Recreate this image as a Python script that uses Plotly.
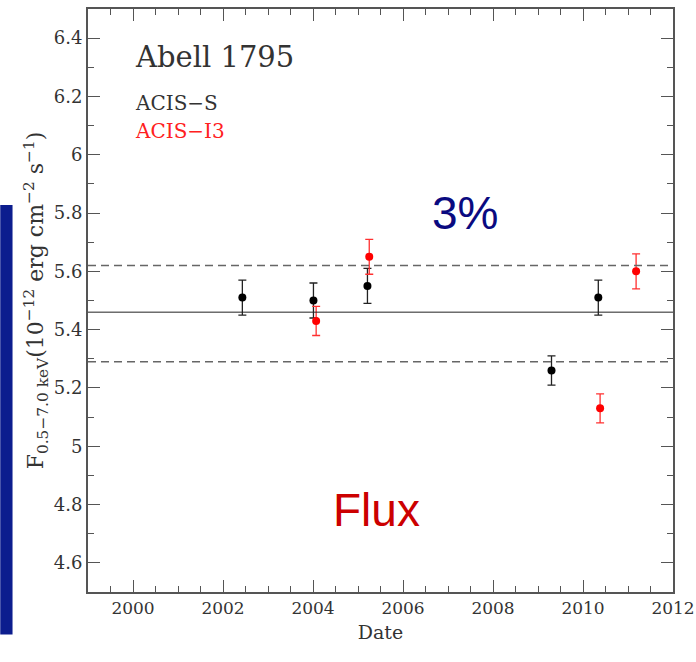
import plotly.graph_objects as go

# Data
s_years = [2002.43, 2004.01, 2005.21, 2009.30, 2010.34]
s_flux = [5.51, 5.50, 5.55, 5.26, 5.51]
s_err = [0.06, 0.06, 0.06, 0.05, 0.06]

i_years = [2004.07, 2005.25, 2010.38, 2011.18]
i_flux = [5.43, 5.65, 5.13, 5.60]
i_err = [0.05, 0.06, 0.05, 0.06]

mean_flux = 5.46
upper_band = 5.62
lower_band = 5.29

x_range = [1999, 2012]
y_range = [4.5, 6.5]

SERIF = "DejaVu Serif"
AXC = "#555555"

fig = go.Figure()

fig.add_trace(go.Scatter(
    x=s_years, y=s_flux, mode="markers",
    marker=dict(color="black", size=8),
    error_y=dict(type="data", array=s_err, color="#222222", thickness=1.3, width=4),
    showlegend=False))
fig.add_trace(go.Scatter(
    x=i_years, y=i_flux, mode="markers",
    marker=dict(color="#ff0000", size=8),
    error_y=dict(type="data", array=i_err, color="#ff3030", thickness=1.3, width=4),
    showlegend=False))

# horizontal reference lines
fig.add_hline(y=mean_flux, line=dict(color="#222222", width=1))
fig.add_hline(y=upper_band, line=dict(color="#666666", width=1.6, dash="8px,5px"))
fig.add_hline(y=lower_band, line=dict(color="#666666", width=1.6, dash="8px,5px"))

# Left blue decorative bar (slide background)
fig.add_shape(type="rect", xref="paper", yref="paper",
              x0=-0.150, x1=-0.129, y0=-0.073, y1=0.664,
              fillcolor="#0c1d8e", line=dict(width=0), layer="below")

fig.add_annotation(x=2000.0, y=6.336, xref="x", yref="y", text="Abell 1795",
                   showarrow=False, xanchor="left", yanchor="middle",
                   font=dict(family=SERIF, size=29, color="#333333"))
fig.add_annotation(x=2000.0, y=6.178, xref="x", yref="y", text="ACIS−S",
                   showarrow=False, xanchor="left", yanchor="middle",
                   font=dict(family=SERIF, size=20, color="#333333"))
fig.add_annotation(x=2000.0, y=6.082, xref="x", yref="y", text="ACIS−I3",
                   showarrow=False, xanchor="left", yanchor="middle",
                   font=dict(family=SERIF, size=20, color="#ff2020"))

fig.add_annotation(x=2007.38, y=5.80, xref="x", yref="y", text="3%",
                   showarrow=False, xanchor="center", yanchor="middle",
                   font=dict(family="Liberation Sans", size=46, color="#0a0a80"))
fig.add_annotation(x=2005.41, y=4.78, xref="x", yref="y", text="Flux",
                   showarrow=False, xanchor="center", yanchor="middle",
                   font=dict(family="Liberation Sans", size=46, color="#cc0000"))

fig.update_xaxes(
    range=x_range, tickmode="array", tickvals=[2000, 2002, 2004, 2006, 2008, 2010, 2012],
    ticks="inside", ticklen=12, tickwidth=1.3, tickcolor=AXC,
    minor=dict(dtick=0.5, ticks="inside", ticklen=6, tickcolor=AXC, tickwidth=1.2),
    showline=True, linecolor=AXC, linewidth=2, mirror="ticks",
    showgrid=False, zeroline=False, automargin=False,
    tickfont=dict(family=SERIF, size=17, color="#333333"),
    title=dict(text="Date", font=dict(family=SERIF, size=19, color="#333333"), standoff=8))
fig.update_yaxes(
    range=y_range, tickmode="array",
    tickvals=[4.6, 4.8, 5.0, 5.2, 5.4, 5.6, 5.8, 6.0, 6.2, 6.4],
    ticktext=["4.6", "4.8", "5", "5.2", "5.4", "5.6", "5.8", "6", "6.2", "6.4"],
    ticks="inside", ticklen=12, tickwidth=1.3, tickcolor=AXC,
    minor=dict(dtick=0.1, ticks="inside", ticklen=6, tickcolor=AXC, tickwidth=1.2),
    showline=True, linecolor=AXC, linewidth=2, mirror="ticks",
    showgrid=False, zeroline=False, automargin=False,
    tickfont=dict(family=SERIF, size=18, color="#333333"),
    title=dict(text="F<sub>0.5−7.0 keV</sub>(10<sup>−12</sup> erg cm<sup>−2</sup> s<sup>−1</sup>)",
               font=dict(family=SERIF, size=22, color="#333333"), standoff=4))

fig.update_layout(
    width=696, height=662,
    margin=dict(l=88, r=23, t=9, b=70),
    paper_bgcolor="white", plot_bgcolor="white",
    showlegend=False)

fig.write_html("out.html")
